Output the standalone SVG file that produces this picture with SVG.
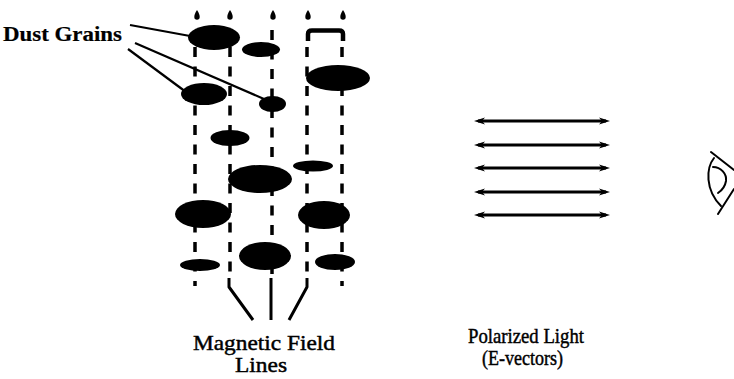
<svg xmlns="http://www.w3.org/2000/svg" width="734" height="379" viewBox="0 0 734 379">
  <style>
    .label { font-family: "Liberation Serif", "Times New Roman", serif; font-size: 21px; fill: #000; stroke: #000; stroke-width: 0.45; }
    .bold { font-weight: bold; stroke-width: 0.2; }
    .grain { fill: #000; }
    .field { fill: none; stroke: #000; stroke-width: 3.5; stroke-dasharray: 10 9.5; }
    .solid { fill: none; stroke: #000; stroke-width: 3; stroke-linejoin: round; }
    .leader { fill: none; stroke: #000; stroke-width: 2.2; }
    .evec { stroke: #000; stroke-width: 3.2; marker-start: url(#head); marker-end: url(#head); }
    .eye { fill: none; stroke: #000; stroke-width: 2; stroke-linecap: round; }
  </style>
  <defs>
    <marker id="head" viewBox="0 0 11 8" markerWidth="11" markerHeight="8" refX="7" refY="4" markerUnits="userSpaceOnUse" orient="auto-start-reverse">
      <path d="M11,4 L0,0.4 L3,4 L0,7.6 Z" fill="#000"/>
    </marker>
    <path id="drop" d="M0,-5 C2,-2 2.7,0 2.7,2 A2.7,2.7 0 0 1 -2.7,2 C-2.7,0 -2,-2 0,-5 Z"/>
  </defs>
  <rect width="734" height="379" fill="#fff"/>

  <!-- field lines (dashed) with their converging tails -->
  <g id="connectors">
    <line class="field" x1="195" y1="47" x2="195" y2="286"/>
    <line class="field" x1="230" y1="47" x2="230" y2="276"/>
    <line class="field" x1="272" y1="30" x2="272" y2="276"/>
    <line class="field" x1="307" y1="47" x2="307" y2="276"/>
    <line class="field" x1="342" y1="47" x2="342" y2="286"/>
    <path class="solid" d="M229,278 L229,287 L253,320"/>
    <path class="solid" d="M271,278 L271,320"/>
    <path class="solid" d="M307,278 L307,287 L289,320"/>
    <!-- leaders from the grain label -->
    <line class="leader" x1="130" y1="25" x2="190" y2="36"/>
    <line class="leader" x1="135" y1="43" x2="264" y2="99"/>
    <line class="leader" x1="128" y1="49" x2="186" y2="92"/>
  </g>

  <!-- droplets at the top of each field line -->
  <g id="drops" class="grain">
    <use href="#drop" x="197" y="15"/>
    <use href="#drop" x="230" y="15"/>
    <use href="#drop" x="273" y="15"/>
    <use href="#drop" x="308" y="15"/>
    <use href="#drop" x="343" y="15"/>
  </g>

  <!-- bracket joining the two right-hand lines -->
  <g id="bracket">
    <path d="M308,41 L308,34 Q308,30.5 312,30.5 L339,30.5 Q343,30.5 343,34 L343,41" fill="none" stroke="#000" stroke-width="4.5"/>
  </g>

  <!-- aligned dust grains -->
  <g id="grains" class="grain">
    <ellipse cx="214" cy="37.5" rx="26" ry="12.5"/>
    <ellipse cx="261" cy="49.5" rx="19" ry="7.5"/>
    <ellipse cx="338" cy="78" rx="32" ry="13"/>
    <ellipse cx="204" cy="94" rx="23" ry="11"/>
    <ellipse cx="272.5" cy="104" rx="13.5" ry="8"/>
    <ellipse cx="230" cy="138" rx="19.5" ry="8"/>
    <ellipse cx="313" cy="166" rx="20" ry="5.5"/>
    <ellipse cx="260" cy="179" rx="32" ry="14"/>
    <ellipse cx="203" cy="214" rx="28" ry="14"/>
    <ellipse cx="324" cy="215" rx="26" ry="14"/>
    <ellipse cx="265" cy="256" rx="26" ry="14"/>
    <ellipse cx="200" cy="265" rx="20" ry="6"/>
    <ellipse cx="335" cy="262" rx="20" ry="8"/>
  </g>

  <!-- polarization E-vectors -->
  <g id="evectors">
    <line class="evec" x1="478" y1="121" x2="606" y2="121"/>
    <line class="evec" x1="478" y1="145" x2="606" y2="145"/>
    <line class="evec" x1="478" y1="168" x2="606" y2="168"/>
    <line class="evec" x1="478" y1="192" x2="606" y2="192"/>
    <line class="evec" x1="478" y1="215" x2="606" y2="215"/>
  </g>

  <!-- observer's eye -->
  <g id="eye">
    <line class="eye" x1="711" y1="152" x2="734" y2="170"/>
    <line class="eye" x1="718" y1="214" x2="734" y2="189"/>
    <path class="eye" d="M714,158 C706,168 705,190 721,206"/>
    <path class="eye" d="M713,167 C721,167 727,174 726,181 C725,187 721,191 718,193"/>
  </g>

  <g id="labels">
    <text class="label bold" x="3" y="41" textLength="119" lengthAdjust="spacingAndGlyphs">Dust Grains</text>
    <text class="label" x="193" y="350" textLength="142" lengthAdjust="spacingAndGlyphs">Magnetic Field</text>
    <text class="label" x="235" y="372" textLength="52" lengthAdjust="spacingAndGlyphs">Lines</text>
    <text class="label" x="468" y="343" textLength="116" lengthAdjust="spacingAndGlyphs">Polarized Light</text>
    <text class="label" x="482" y="365" textLength="81" lengthAdjust="spacingAndGlyphs">(E-vectors)</text>
  </g>
</svg>
